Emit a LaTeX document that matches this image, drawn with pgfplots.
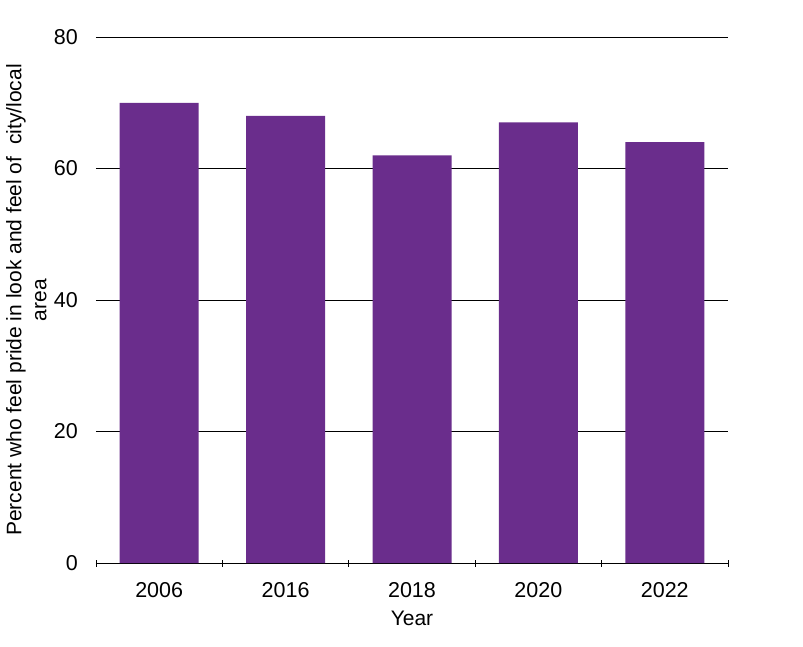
\documentclass[border=0pt]{standalone}
\usepackage{fontspec}
\setmainfont{Liberation Sans}
\usepackage{pgfplots}
\pgfplotsset{compat=1.18}
\definecolor{barpurple}{HTML}{6A2D8C}
\begin{document}
\fontsize{21}{25}\selectfont
\begin{tikzpicture}
\useasboundingbox (-96pt,-83pt) rectangle (707pt,563pt);
\begin{axis}[
  at={(0pt,0pt)}, anchor=south west,
  scale only axis,
  width=632pt, height=526pt,
  xmin=0.5, xmax=5.5,
  ymin=0, ymax=80,
  ytick={0,20,40,60,80},
  xtick={1,2,3,4,5},
  xticklabels={2006,2016,2018,2020,2022},
  minor xtick={0.5,1.5,2.5,3.5,4.5,5.5},
  major tick length=0pt,
  minor tick length=7pt,
  tick align=outside,
  every minor tick/.style={draw=black, line width=0.8pt},
  axis x line=bottom,
  axis y line=left,
  axis line style={-, line width=0.8pt, black},
  y axis line style={draw=none},
  ymajorgrids,
  grid style={black, line width=0.8pt},
  /pgf/number format/assume math mode=true,
  ticklabel style={font=\fontsize{21.5}{25}\selectfont},
  yticklabel style={inner sep=0pt, anchor=east, xshift=-18pt},
  xticklabel style={inner sep=0pt, anchor=north, yshift=-19pt},
  xlabel={Year},
  xlabel style={font=\fontsize{21}{25}\selectfont, inner sep=0pt, anchor=north, at={(axis description cs:0.5,0)}, yshift=-48pt},
  ylabel={Percent who feel pride in look and feel of \ city/local\\area},
  ylabel style={font=\fontsize{21}{25}\selectfont, align=center, inner sep=0pt, anchor=north, at={(axis description cs:-0.1425,0.5)}},
  clip=false,
]
\addplot[ybar, bar width=79pt, fill=barpurple, draw=none] coordinates {
  (1,70) (2,68) (3,62) (4,67) (5,64)
};
\end{axis}
\end{tikzpicture}
\end{document}
